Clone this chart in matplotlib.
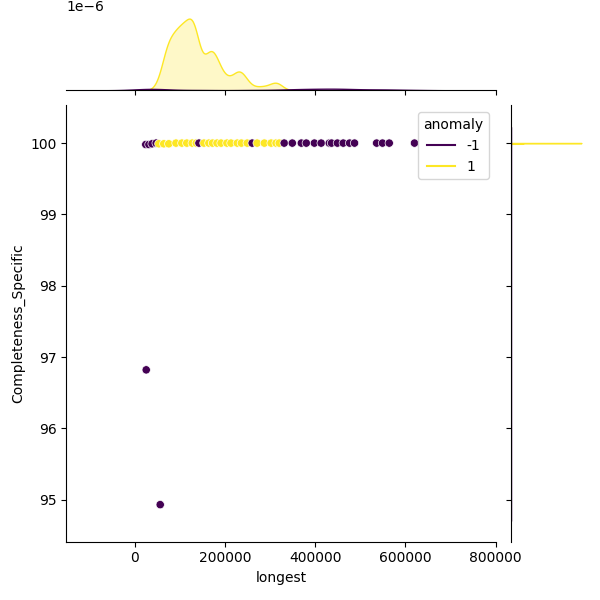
import pandas as pd
import seaborn as sns
import matplotlib.pyplot as plt
from matplotlib.lines import Line2D

# points; n = how many points sit on top of each other there
normal_x = [53000, 64000, 75000, 91000, 104000, 115000, 127000, 136000, 153000, 164000,
            172000, 182000, 191000, 204000, 213000, 227000, 236000, 249000, 271000, 287000,
            302000, 313000, 320000]
normal_y = [99.99, 99.99, 99.99, 100, 100, 100, 100, 100, 100, 100,
            100, 100, 100, 100, 100, 100, 100, 100, 100, 100,
            100, 100, 100]
normal_n = [3, 15, 39, 42, 36, 36, 42, 36, 12, 21,
            21, 15, 9, 6, 6, 12, 12, 6, 3, 3,
            3, 6, 3]

anomaly_x = [24000, 31000, 38000, 47000, 142000, 260000, 331000, 349000, 369000, 380000,
             398000, 413000, 431000, 436000, 449000, 462000, 476000, 487000, 536000, 549000,
             564000, 620000, 25000, 56000]
anomaly_y = [99.98, 99.98, 99.99, 100, 100, 100, 100, 100, 100, 100,
             100, 100, 100, 100, 100, 100, 100, 100, 100, 100,
             100, 100, 96.82, 94.93]
anomaly_n = [1, 1, 1, 1, 1, 1, 1, 1, 1, 1,
             1, 1, 1, 1, 1, 1, 1, 1, 1, 1,
             1, 1, 1, 1]

df = pd.concat([
    pd.DataFrame({"longest": normal_x, "Completeness_Specific": normal_y, "n": normal_n, "anomaly": 1}),
    pd.DataFrame({"longest": anomaly_x, "Completeness_Specific": anomaly_y, "n": anomaly_n, "anomaly": -1}),
]).sort_values("longest").reset_index(drop=True)

colors = {-1: "#440154", 1: "#fde725"}

g = sns.JointGrid(data=df, x="longest", y="Completeness_Specific", height=6)
sns.scatterplot(data=df, x="longest", y="Completeness_Specific", hue="anomaly",
                palette=colors, legend=False, ax=g.ax_joint)
sns.kdeplot(data=df, x="longest", hue="anomaly", weights="n", palette=colors,
            fill=True, bw_adjust=0.35, legend=False, ax=g.ax_marg_x)
sns.kdeplot(data=df, y="Completeness_Specific", hue="anomaly", weights="n", palette=colors,
            fill=True, bw_adjust=0.12, legend=False, ax=g.ax_marg_y)

g.ax_joint.set_xlim(-152000, 801000)
g.ax_joint.set_ylim(94.41, 100.53)

handles = [Line2D([], [], color=colors[-1], label="-1"),
           Line2D([], [], color=colors[1], label="1")]
g.ax_joint.legend(handles=handles, title="anomaly", loc="upper right")

g.figure.savefig("out.png", dpi=100)
